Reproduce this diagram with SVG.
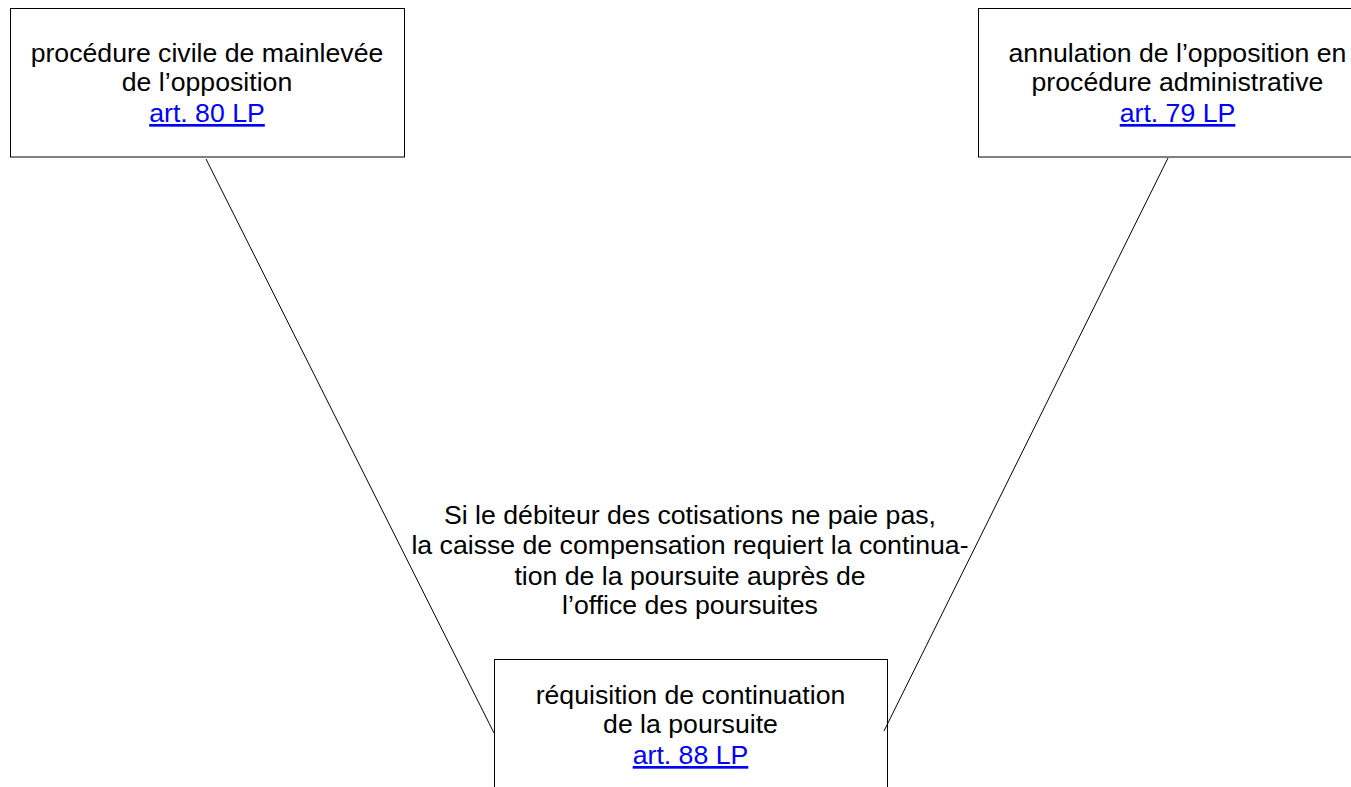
<svg xmlns="http://www.w3.org/2000/svg" width="1351" height="787" viewBox="0 0 1351 787">
<style>
.box{fill:#fff;stroke:#000;stroke-width:1}
.t{font-family:"Liberation Sans",Arial,sans-serif;font-size:26.67px;text-anchor:middle;fill:#000}
.l{fill:#0000ff;text-decoration:underline}
.c{stroke:#000;stroke-width:1;fill:none}
</style>
<rect width="1351" height="787" fill="#fff"/>
<g id="node-civile">
<rect class="box" x="10.5" y="8.5" width="394" height="148.5"/>
<text class="t" x="207" y="62">procédure civile de mainlevée</text>
<text class="t" x="207" y="91">de l’opposition</text>
<text class="t l" x="207" y="122">art. 80 LP</text>
</g>
<g id="node-admin">
<rect class="box" x="978.5" y="8.5" width="400" height="148.5"/>
<text class="t" x="1177.5" y="62">annulation de l’opposition en</text>
<text class="t" x="1177.5" y="91">procédure administrative</text>
<text class="t l" x="1177.5" y="122">art. 79 LP</text>
</g>
<g id="label">
<text class="t" x="690" y="524">Si le débiteur des cotisations ne paie pas,</text>
<text class="t" x="690" y="554">la caisse de compensation requiert la continua-</text>
<text class="t" x="690" y="585">tion de la poursuite auprès de</text>
<text class="t" x="690" y="614">l’office des poursuites</text>
</g>
<g id="node-requisition">
<rect class="box" x="494.5" y="659.5" width="393" height="140"/>
<text class="t" x="690.5" y="704">réquisition de continuation</text>
<text class="t" x="690.5" y="733">de la poursuite</text>
<text class="t l" x="690.5" y="764">art. 88 LP</text>
</g>
<g id="connectors">
<line class="c" x1="206" y1="159" x2="494" y2="733"/>
<line class="c" x1="1168" y1="158" x2="884" y2="731"/>
</g>
</svg>
